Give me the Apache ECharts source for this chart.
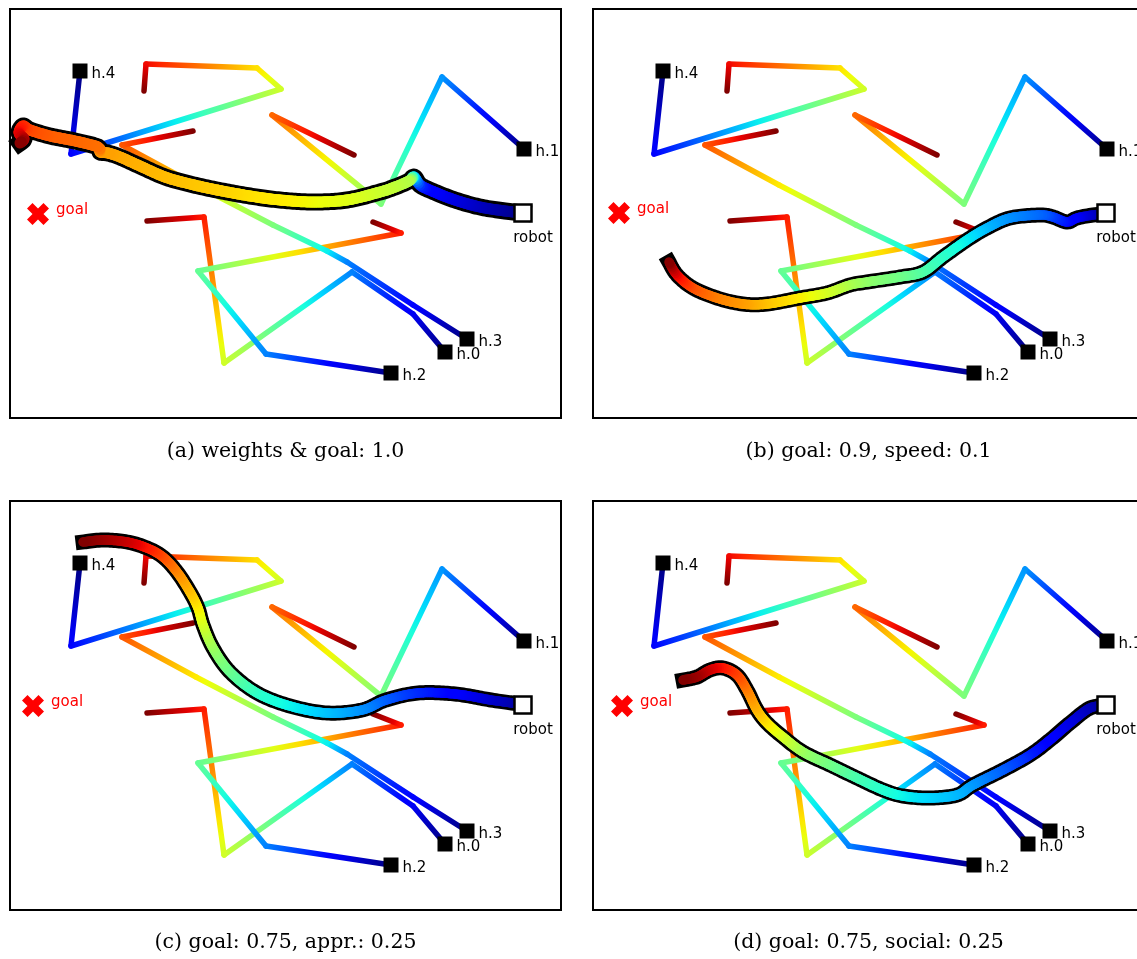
<!DOCTYPE html>
<html>
<head>
<meta charset="utf-8">
<script src="https://cdn.jsdelivr.net/npm/echarts@6/dist/echarts.min.js"></script>
<style>html,body{margin:0;padding:0;background:#fff}#main{width:1137px;height:959px}</style>
</head>
<body>
<div id="main"></div>
<script>
// human tracks: [x, y, t]  t=0 at current position (marker), t=1 oldest sample
const humanNames = ['h.0', 'h.1', 'h.2', 'h.3', 'h.4'];
const h0 = [[445, 352, 0], [413, 314, 0.1], [352, 272, 0.25], [224, 363, 0.6], [204, 217, 0.88], [147, 221, 1]];
const h1 = [[524, 149, 0], [442, 77, 0.27], [381, 204, 0.5], [272, 115, 0.8], [354, 155, 1]];
const h2 = [[391, 373, 0], [266, 354, 0.25], [198, 271, 0.47], [401, 233, 0.88], [373, 222, 1]];
const h3 = [[467, 339, 0], [413, 305, 0.12], [347, 262, 0.25], [327, 251, 0.36], [273, 225, 0.5], [196, 185, 0.66], [122, 145, 0.82], [193, 131, 1]];
const h4 = [[80, 71, 0], [71, 154, 0.12], [281, 89, 0.6], [257, 68, 0.67], [146, 64, 0.9], [144, 91, 1]];
const humans = [h0, h1, h2, h3, h4];

// planned robot paths, one per panel: [x, y, t]  t=0 at the robot
const robotA = [[523, 213, 0], [505, 211, 0.02], [480, 207, 0.05], [455, 200, 0.08], [432, 191, 0.11], [420, 185, 0.16],
  [414, 177, 0.3], [409, 181, 0.56], [395, 187, 0.58], [380, 192, 0.59], [347, 200, 0.62], [313, 202, 0.64],
  [280, 200, 0.66], [250, 196, 0.67], [217, 190, 0.69], [190, 184, 0.7], [165, 177, 0.71], [140, 166, 0.72],
  [120, 157, 0.73], [108, 153, 0.74], [100, 152, 0.74], [98, 147, 0.79], [75, 141, 0.8], [50, 136, 0.81],
  [30, 130, 0.83], [23, 126, 0.86], [19, 133, 0.9], [24, 139, 0.95], [20, 143, 1]];
const robotB = [[523, 214, 0], [510, 215, 0.05], [494, 218, 0.1], [484, 222, 0.13], [470, 217, 0.18], [457, 215, 0.22],
  [427, 218, 0.26], [404, 228, 0.3], [384, 240, 0.35], [360, 257, 0.4], [340, 272, 0.44], [317, 277, 0.48],
  [284, 282, 0.52], [267, 285, 0.55], [244, 293, 0.6], [217, 298, 0.65], [184, 304, 0.7], [160, 304, 0.74],
  [134, 298, 0.77], [110, 288, 0.82], [94, 275, 0.9], [86, 262, 1]];
const robotC = [[523, 213, 0], [512, 211, 0.03], [491, 208, 0.06], [455, 202, 0.11], [418, 201, 0.16], [386, 208, 0.21],
  [362, 218, 0.26], [327, 221, 0.31], [290, 214, 0.36], [257, 201, 0.4], [230, 180, 0.47], [213, 156, 0.53],
  [203, 133, 0.6], [198, 116, 0.65], [190, 100, 0.7], [177, 80, 0.76], [163, 65, 0.82], [147, 56, 0.88],
  [127, 50, 0.93], [103, 48, 0.97], [83, 50, 1]];
const robotD = [[523, 214, 0], [507, 216, 0.04], [487, 231, 0.08], [467, 248, 0.11], [447, 263, 0.15], [420, 278, 0.21],
  [390, 293, 0.27], [374, 303, 0.3], [347, 306, 0.33], [320, 304, 0.36], [300, 298, 0.39], [274, 286, 0.43],
  [247, 273, 0.48], [220, 260, 0.53], [200, 245, 0.6], [184, 231, 0.66], [174, 218, 0.71], [164, 198, 0.77],
  [154, 183, 0.83], [140, 176, 0.88], [127, 178, 0.92], [114, 185, 0.97], [100, 188, 1]];
const robotPaths = [robotA, robotB, robotC, robotD];

const robotPos = [523, 213];
const goals = [[38, 214], [36, 213], [33, 214], [39, 214]];
const captions = ['(a) weights & goal: 1.0', '(b) goal: 0.9, speed: 0.1', '(c) goal: 0.75, appr.: 0.25', '(d) goal: 0.75, social: 0.25'];

// matplotlib "jet"
const jetR = [[0, 0], [0.35, 0], [0.66, 1], [0.89, 1], [1, 0.5]];
const jetG = [[0, 0], [0.125, 0], [0.375, 1], [0.64, 1], [0.91, 0], [1, 0]];
const jetB = [[0, 0.5], [0.11, 1], [0.34, 1], [0.65, 0], [1, 0]];
function lerpTab(tab, v) {
  for (let i = 1; i < tab.length; i++) {
    if (v <= tab[i][0]) {
      const f = (v - tab[i - 1][0]) / (tab[i][0] - tab[i - 1][0]);
      return tab[i - 1][1] + f * (tab[i][1] - tab[i - 1][1]);
    }
  }
  return tab[tab.length - 1][1];
}
function jet(v) {
  v = Math.max(0, Math.min(1, v));
  return 'rgb(' + Math.round(255 * lerpTab(jetR, v)) + ',' + Math.round(255 * lerpTab(jetG, v)) + ',' + Math.round(255 * lerpTab(jetB, v)) + ')';
}

const panels = [{left: 10, top: 9}, {left: 593, top: 9}, {left: 10, top: 501}, {left: 593, top: 501}];
const robotWidth = [[11, 17], [9.5, 15], [9.5, 15], [9.5, 15]]; // core, outline

// straight segments, coloured along jet between the two samples
function gradSeg(pts, width) {
  return function (params, api) {
    const i = params.dataIndex;
    if (i >= pts.length - 1) return null;
    const a = api.coord([pts[i][0], pts[i][1]]);
    const b = api.coord([pts[i + 1][0], pts[i + 1][1]]);
    const t0 = pts[i][2], t1 = pts[i + 1][2];
    const stops = [];
    for (let k = 0; k <= 8; k++) stops.push({offset: k / 8, color: jet(t0 + (t1 - t0) * k / 8)});
    return {
      type: 'line',
      shape: {x1: a[0], y1: a[1], x2: b[0], y2: b[1]},
      style: {stroke: new echarts.graphic.LinearGradient(a[0], a[1], b[0], b[1], stops, true), lineWidth: width, lineCap: 'round'}
    };
  };
}

// catmull-rom in screen space, only for drawing a smooth stroke
function smoothPx(pts, api) {
  const P = pts.map(p => { const c = api.coord([p[0], p[1]]); return [c[0], c[1], p[2]]; });
  const out = [];
  const n = P.length;
  for (let i = 0; i < n - 1; i++) {
    const p0 = P[Math.max(i - 1, 0)], p1 = P[i], p2 = P[i + 1], p3 = P[Math.min(i + 2, n - 1)];
    const steps = Math.max(2, Math.ceil(Math.hypot(p2[0] - p1[0], p2[1] - p1[1]) / 2));
    for (let s = 0; s < steps; s++) {
      const u = s / steps, u2 = u * u, u3 = u2 * u;
      const f = k => 0.5 * ((2 * p1[k]) + (-p0[k] + p2[k]) * u + (2 * p0[k] - 5 * p1[k] + 4 * p2[k] - p3[k]) * u2 + (-p0[k] + 3 * p1[k] - 3 * p2[k] + p3[k]) * u3);
      out.push([f(0), f(1), p1[2] + (p2[2] - p1[2]) * u]);
    }
  }
  out.push(P[n - 1]);
  return out;
}
function robotRender(pts, core, edge) {
  return function (params, api) {
    if (params.dataIndex !== 0) return null;
    const d = smoothPx(pts, api);
    const children = [{
      type: 'polyline', shape: {points: d.map(q => [q[0], q[1]])},
      style: {stroke: '#000', fill: 'none', lineWidth: edge, lineJoin: 'round', lineCap: 'square'}
    }];
    for (let i = 0; i < d.length - 1; i++) {
      children.push({
        type: 'line', shape: {x1: d[i][0], y1: d[i][1], x2: d[i + 1][0], y2: d[i + 1][1]},
        style: {stroke: jet((d[i][2] + d[i + 1][2]) / 2), lineWidth: core, lineCap: 'round'}
      });
    }
    return {type: 'group', children: children};
  };
}

const grid = [], xAxis = [], yAxis = [], series = [], graphic = [];
panels.forEach((p, g) => {
  grid.push({left: p.left, top: p.top, width: 551, height: 409, outerBoundsMode: 'none', containLabel: false,
    show: true, borderColor: '#000', borderWidth: 2, backgroundColor: '#fff'});
  xAxis.push({type: 'value', gridIndex: g, min: 10, max: 561, show: false});
  yAxis.push({type: 'value', gridIndex: g, min: 9, max: 418, inverse: true, show: false});

  humans.forEach(h => {
    series.push({type: 'custom', xAxisIndex: g, yAxisIndex: g, silent: true, z: 2, data: h, encode: {x: 0, y: 1}, renderItem: gradSeg(h, 5.5)});
  });
  const rp = robotPaths[g];
  series.push({type: 'custom', xAxisIndex: g, yAxisIndex: g, silent: true, z: 3, data: rp, encode: {x: 0, y: 1},
    renderItem: robotRender(rp, robotWidth[g][0], robotWidth[g][1])});

  series.push({
    type: 'scatter', xAxisIndex: g, yAxisIndex: g, silent: true, z: 5,
    symbol: 'rect', symbolSize: 15, itemStyle: {color: '#000', opacity: 1},
    label: {show: true, position: 'right', distance: 4, offset: [0, 3], formatter: q => q.value[2],
      fontFamily: 'DejaVu Sans', fontSize: 15, color: '#000'},
    data: humans.map((h, i) => [h[0][0], h[0][1], humanNames[i]])
  });
  series.push({
    type: 'scatter', xAxisIndex: g, yAxisIndex: g, silent: true, z: 6,
    symbol: 'rect', symbolSize: 17, itemStyle: {color: '#fff', borderColor: '#000', borderWidth: 2.5, opacity: 1},
    label: {show: true, position: 'bottom', distance: 8, offset: [10, 0], formatter: 'robot',
      fontFamily: 'DejaVu Sans', fontSize: 15, color: '#000'},
    data: [robotPos]
  });
  series.push({
    type: 'scatter', xAxisIndex: g, yAxisIndex: g, silent: true, z: 6,
    symbol: 'path://M0,2.5 L2.5,0 L5,2.5 L7.5,0 L10,2.5 L7.5,5 L10,7.5 L7.5,10 L5,7.5 L2.5,10 L0,7.5 L2.5,5 Z',
    symbolSize: 22, itemStyle: {color: '#ff0000', opacity: 1},
    label: {show: true, position: 'right', distance: 7, offset: [0, -4], formatter: 'goal',
      fontFamily: 'DejaVu Sans', fontSize: 15, color: '#ff0000'},
    data: [goals[g]]
  });

  graphic.push({
    type: 'text', x: p.left + 275.5, y: g < 2 ? 452 : 943,
    style: {text: captions[g], align: 'center', verticalAlign: 'middle', font: '20.5px "DejaVu Serif"', fill: '#000'}
  });
});

const chart = echarts.init(document.getElementById('main'));
chart.setOption({animation: false, grid: grid, xAxis: xAxis, yAxis: yAxis, series: series, graphic: graphic});
</script>
</body>
</html>
